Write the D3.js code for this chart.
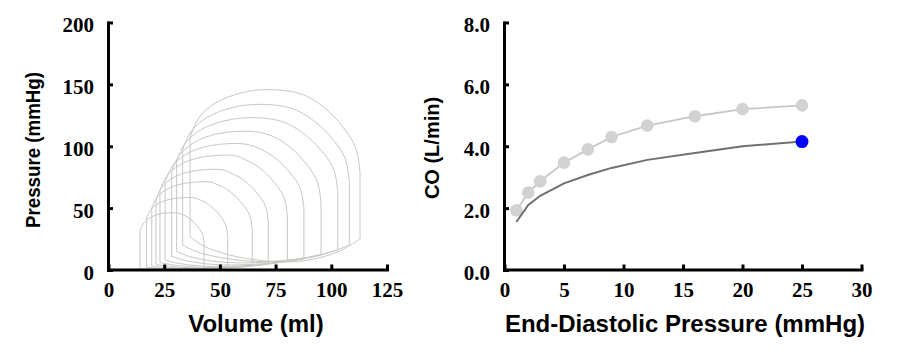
<!DOCTYPE html>
<html><head><meta charset="utf-8">
<script src="https://cdn.jsdelivr.net/npm/d3@7"></script>
<style>body{margin:0;background:#fff} svg{display:block}</style>
</head><body>
<svg id="c" width="900" height="357"></svg>
<script>
// ---------- Left panel: pressure-volume loops, one per end-diastolic pressure ----------
const loopEDP = [1, 2, 3, 5, 7, 9, 12, 16, 20, 25];
// ejection arcs [volume ml, pressure mmHg], from end-diastolic corner to end-systolic corner
const ejectionArcs = [
  [[42.9,21.5],[42.2,28.9],[40.0,35.1],[36.6,41.3],[32.8,45.1],[28.5,46.3],[22.7,45.2],[18.4,42.0],[15.5,37.1],[14.1,31]],
  [[53.5,26.9],[52.6,36.4],[49.9,44.3],[45.5,52.2],[40.8,56.9],[37.5,58.5],[28.0,57.3],[22.6,53.9],[18.9,48.6],[17.1,42]],
  [[64.5,32.3],[63.4,43.9],[60.0,53.6],[54.6,63.3],[48.7,69.2],[45.5,71.1],[32.9,69.6],[26.2,65.2],[21.7,58.4],[19.4,50]],
  [[71.7,39.1],[70.4,51.7],[66.7,62.2],[60.6,72.7],[54.1,79.0],[51.0,81.1],[36.4,79.4],[28.9,74.4],[23.8,66.6],[21.3,57]],
  [[80.3,43.1],[78.9,58.0],[74.6,70.3],[67.7,82.7],[60.3,90.1],[56.0,92.6],[40.3,90.6],[31.7,84.6],[26.0,75.4],[23.1,64]],
  [[87.7,49.8],[86.1,65.5],[81.5,78.6],[74.0,91.6],[65.9,99.5],[59.5,102.1],[44.1,99.9],[34.7,93.4],[28.5,83.4],[25.4,71]],
  [[95.4,53.9],[93.7,71.4],[88.7,85.9],[80.7,100.5],[72.0,109.2],[63.0,112.1],[48.5,109.9],[38.5,103.1],[31.8,92.8],[28.4,80]],
  [[102.9,63.3],[101.1,81.2],[95.7,96.2],[87.0,111.1],[77.6,120.1],[65.5,123.1],[52.3,120.6],[41.4,113.3],[34.2,102.0],[30.6,88]],
  [[108.1,71.4],[106.2,90.2],[100.6,105.8],[91.6,121.4],[81.9,130.8],[68.0,133.9],[55.7,131.3],[44.5,123.6],[37.0,111.8],[33.3,97]],
  [[112.9,78.1],[111.0,98.4],[105.3,115.3],[96.1,132.3],[86.2,142.4],[71.0,145.8],[59.5,143.1],[48.0,134.9],[40.4,122.5],[36.6,107]]
];
// filling curves [volume, pressure], from end-systolic volume to end-diastolic volume
const fillingCurves = [
  [[14.1,1.2],[20,0.6],[30,0.4],[38,0.6],[42.9,1]],
  [[17.1,2.2],[24,1.2],[35,0.8],[45,1.2],[53.5,2]],
  [[19.4,3.2],[27,1.8],[40,1.0],[53.5,1.8],[64.5,3]],
  [[21.3,4.5],[28,2.8],[40,1.6],[55,2.2],[64.5,3.2],[71.7,5]],
  [[23.1,6],[30,3.8],[42,2.2],[55,2.4],[67,3.8],[80.3,7]],
  [[25.4,8],[32,5.2],[44,3],[58,3.2],[72,5],[87.7,9]],
  [[28.4,11],[35,7.5],[47,4.5],[60,4.2],[72,5.5],[84,8],[95.4,12]],
  [[30.6,15],[37,10.5],[50,6.5],[63,5.8],[76,7],[90,10.5],[102.9,16]],
  [[33.3,20],[40,14.5],[52,9.5],[66,7],[80,7.8],[95,12],[108.1,20]],
  [[36.6,27],[42,20],[48,15.5],[57,11],[67,8],[78,6.5],[88,7.5],[96,10.5],[104,15.5],[112.9,25]]
];
const volumeTicks = [0, 25, 50, 75, 100, 125];
const pressureTicks = [0, 50, 100, 150, 200];

// ---------- Right panel: cardiac output vs end-diastolic pressure ----------
const edpValues = [1, 2, 3, 5, 7, 9, 12, 16, 20, 25];
const coReference = [1.93, 2.5, 2.87, 3.47, 3.9, 4.3, 4.67, 4.97, 5.2, 5.32];
const coCurrent = [1.55, 2.1, 2.4, 2.8, 3.07, 3.3, 3.56, 3.78, 4.0, 4.15];
const edpTicks = [0, 5, 10, 15, 20, 25, 30];
const coTicks = [0, 2, 4, 6, 8];

const svg = d3.select('#c');
const yTop = 22.5, yBot = 270;
const xL = d3.scaleLinear().domain([0,125]).range([108.5,387]);
const yL = d3.scaleLinear().domain([0,200]).range([yBot,yTop]);
const xR = d3.scaleLinear().domain([0,30]).range([504.5,861.5]);
const yR = d3.scaleLinear().domain([0,8]).range([yBot,yTop]);

const serif = '"Liberation Serif","Times New Roman",serif';
const sans = '"Liberation Sans",Arial,sans-serif';

function styleAxis(g, isY){
  g.select('.domain').attr('stroke','#000').attr('stroke-width',3).attr('stroke-linecap','square');
  g.selectAll('.tick line').attr('stroke','#000').attr('stroke-width',3);
  g.selectAll('.tick text').attr('font-family',serif).attr('font-weight','bold')
    .attr('font-size',21).attr('fill','#000');
  if (isY) g.selectAll('.tick text').attr('dy','0.45em');
}

// ---- left panel marks ----
const loopColor = '#c4c9c2';
const gL = svg.append('g');
const lineL = d3.line().x(d=>xL(d[0])).y(d=>yL(d[1]));
const smoothL = d3.line().x(d=>xL(d[0])).y(d=>yL(d[1])).curve(d3.curveCatmullRom.alpha(0.5));
loopEDP.forEach((edp,i)=>{
  const arc = ejectionArcs[i], fill = fillingCurves[i];
  const endFill = fill[fill.length-1], startFill = fill[0];
  const startArc = arc[0], endArc = arc[arc.length-1];
  gL.append('path').attr('d', smoothL(fill)).attr('fill','none').attr('stroke',loopColor).attr('stroke-width',1);
  gL.append('path').attr('d', lineL([endFill,startArc])).attr('fill','none').attr('stroke',loopColor).attr('stroke-width',1);
  gL.append('path').attr('d', smoothL(arc)).attr('fill','none').attr('stroke',loopColor).attr('stroke-width',1);
  gL.append('path').attr('d', lineL([endArc,startFill])).attr('fill','none').attr('stroke',loopColor).attr('stroke-width',1);
});

const axLx = svg.append('g').attr('transform',`translate(0,${yBot-0.5})`)
  .call(d3.axisBottom(xL).tickValues(volumeTicks).tickSizeInner(-5).tickSizeOuter(0).tickPadding(13));
styleAxis(axLx,false);
const axLy = svg.append('g').attr('transform',`translate(${xL(0)-0.5},0)`)
  .call(d3.axisLeft(yL).tickValues(pressureTicks).tickSizeInner(-5).tickSizeOuter(0).tickPadding(14));
styleAxis(axLy,true);

svg.append('text').attr('x',256).attr('y',332).attr('text-anchor','middle')
  .attr('font-family',sans).attr('font-weight','bold').attr('font-size',24).text('Volume (ml)');
svg.append('text').attr('transform','translate(40,150) rotate(-90)').attr('text-anchor','middle')
  .attr('font-family',sans).attr('font-weight','bold').attr('font-size',20)
  .attr('textLength',156).attr('lengthAdjust','spacingAndGlyphs').text('Pressure (mmHg)');

// ---- right panel marks ----
const refPts = edpValues.map((e,i)=>[e,coReference[i]]);
const curPts = edpValues.map((e,i)=>[e,coCurrent[i]]);
const lineR = d3.line().x(d=>xR(d[0])).y(d=>yR(d[1]));
svg.append('path').attr('d',lineR(refPts)).attr('fill','none').attr('stroke','#c4c8c0').attr('stroke-width',1.8);
svg.selectAll('circle.ref').data(refPts).join('circle').attr('class','ref')
  .attr('cx',d=>xR(d[0])).attr('cy',d=>yR(d[1])).attr('r',6.3).attr('fill','#d2d2d2');
svg.append('path').attr('d',lineR(curPts)).attr('fill','none').attr('stroke','#707070').attr('stroke-width',2);
const last = curPts[curPts.length-1];
svg.append('circle').attr('cx',xR(last[0])).attr('cy',yR(last[1])).attr('r',6.5).attr('fill','#0000ff');

const axRx = svg.append('g').attr('transform',`translate(0,${yBot-0.5})`)
  .call(d3.axisBottom(xR).tickValues(edpTicks).tickSizeInner(-5).tickSizeOuter(0).tickPadding(13));
styleAxis(axRx,false);
const axRy = svg.append('g').attr('transform',`translate(${xR(0)-0.5},0)`)
  .call(d3.axisLeft(yR).tickValues(coTicks).tickFormat(d3.format('.1f')).tickSizeInner(-5).tickSizeOuter(0).tickPadding(14));
styleAxis(axRy,true);

svg.append('text').attr('x',685).attr('y',332).attr('text-anchor','middle')
  .attr('font-family',sans).attr('font-weight','bold').attr('font-size',24).text('End-Diastolic Pressure (mmHg)');
svg.append('text').attr('transform','translate(439,148) rotate(-90)').attr('text-anchor','middle')
  .attr('font-family',sans).attr('font-weight','bold').attr('font-size',20).text('CO (L/min)');
</script>
</body></html>
